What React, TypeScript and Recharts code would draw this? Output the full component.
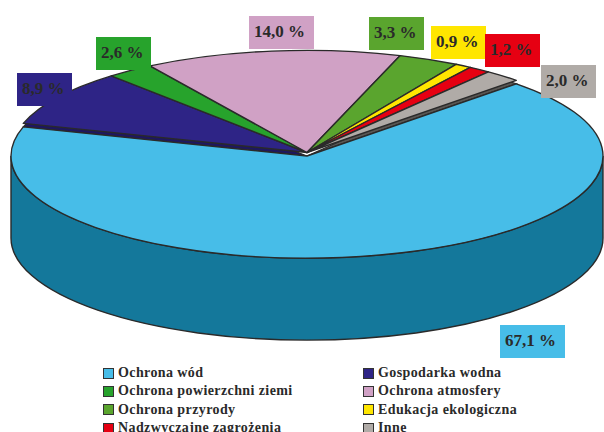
import { PieChart, Pie, Legend } from "recharts";

// Chart data
const CATEGORIES = [
  "Ochrona wód",
  "Gospodarka wodna",
  "Ochrona powierzchni ziemi",
  "Ochrona atmosfery",
  "Ochrona przyrody",
  "Edukacja ekologiczna",
  "Nadzwyczajne zagrożenia",
  "Inne",
];
const SHARES = [67.1, 8.9, 2.6, 14.0, 3.3, 0.9, 1.2, 2.0];
const COLORS = ["#47BDE8", "#2E2486", "#27A32C", "#D0A1C5", "#5AA52E", "#FFE600", "#E60012", "#B0ABA7"];
const CUT_COLORS = ["#14789B", "#1E1760", "#1B7A20", "#9A7592", "#3F7A20", "#B8A600", "#A0000C", "#5A5754"];

// top-left corner and width of each value box
const LABEL_BOXES = [
  [500, 325, 65],
  [17, 73, 55],
  [96, 37, 55],
  [249, 16, 65],
  [369, 17, 55],
  [431, 26, 55],
  [485, 34, 55],
  [541, 65, 55],
];

const pieData = CATEGORIES.map((name, i) => ({ name, value: SHARES[i] }));

const SQUASH = 0.345;
const DEPTH = 82;
const LIFT = 3.5; // blue slice sits this much below the rest
const INK = "#2a2a2a";
const SERIF = "'Liberation Serif', serif";

const RAD = Math.PI / 180;

function wedgePath(cx: number, cy: number, r: number, start: number, end: number) {
  const ry = r * SQUASH;
  const x0 = cx + r * Math.cos(start * RAD);
  const y0 = cy - ry * Math.sin(start * RAD);
  const x1 = cx + r * Math.cos(end * RAD);
  const y1 = cy - ry * Math.sin(end * RAD);
  const large = Math.abs(start - end) > 180 ? 1 : 0;
  return `M${cx},${cy} L${x0},${y0} A${r},${ry} 0 ${large} 1 ${x1},${y1} Z`;
}

function wallPath(cx: number, cy: number, r: number) {
  const ry = r * SQUASH;
  return `M${cx - r},${cy} L${cx - r},${cy + DEPTH} A${r},${ry} 0 0 0 ${cx + r},${cy + DEPTH} L${cx + r},${cy} A${r},${ry} 0 0 1 ${cx - r},${cy} Z`;
}

function RestSlice(props: any) {
  const { cx, cy, outerRadius, startAngle, endAngle, index } = props;
  if (index === 0) return <g />;
  const d = wedgePath(cx, cy, outerRadius, startAngle, endAngle);
  const showCut = index === 1 || index === CATEGORIES.length - 1;
  return (
    <g>
      {showCut && (
        <path d={d} transform={`translate(0,${LIFT})`} fill={CUT_COLORS[index]} stroke={INK} strokeWidth={1.2} />
      )}
      <path d={d} fill={COLORS[index]} stroke={INK} strokeWidth={1.4} strokeLinejoin="round" />
    </g>
  );
}

function MainSlice(props: any) {
  const { cx, cy, outerRadius, startAngle, endAngle, index } = props;
  if (index !== 0) return <g />;
  return (
    <g>
      <path d={wallPath(cx, cy, outerRadius)} fill={CUT_COLORS[0]} stroke={INK} strokeWidth={1.4} />
      <path
        d={wedgePath(cx, cy, outerRadius, startAngle, endAngle)}
        fill={COLORS[0]}
        stroke={INK}
        strokeWidth={1.4}
        strokeLinejoin="round"
      />
    </g>
  );
}

function ValueBox(props: any) {
  const { index } = props;
  const [x, y, w] = LABEL_BOXES[index];
  return (
    <g>
      <rect x={x} y={y} width={w} height={33} fill={COLORS[index]} />
      <text
        x={x + 5}
        y={y + 21}
        textAnchor="start"
        fontFamily={SERIF}
        fontWeight={700}
        fontSize={17}
        fill={INK}
      >
        {SHARES[index].toFixed(1).replace(".", ",") + " %"}
      </text>
    </g>
  );
}

function LegendGrid() {
  return (
    <div style={{ position: "relative", width: 604, height: 70 }}>
      {CATEGORIES.map((name, i) => (
        <div
          key={name}
          style={{
            position: "absolute",
            left: i % 2 === 0 ? 103 : 363,
            top: Math.floor(i / 2) * 18.4,
            display: "flex",
            alignItems: "center",
            height: 18,
            fontFamily: SERIF,
            fontWeight: 700,
            fontSize: 14,
            letterSpacing: 0.4,
            color: INK,
            whiteSpace: "nowrap",
          }}
        >
          <span
            style={{
              width: 9,
              height: 9,
              marginRight: 4,
              background: COLORS[i],
              border: "1px solid #333",
              display: "inline-block",
            }}
          />
          {name}
        </div>
      ))}
    </div>
  );
}

export default function App() {
  return (
    <div style={{ position: "absolute", left: 0, top: 0, width: 604, height: 432, overflow: "hidden", background: "#fff" }}>
      <PieChart width={604} height={432} margin={{ top: 0, right: 0, bottom: 0, left: 0 }}>
        <Pie
          data={pieData}
          dataKey="value"
          nameKey="name"
          cx={307}
          cy={152.5}
          innerRadius={0}
          outerRadius={296}
          startAngle={45}
          endAngle={-315}
          stroke="none"
          shape={RestSlice}
          inactiveShape={RestSlice}
          isAnimationActive={false}
        />
        <Pie
          data={pieData}
          dataKey="value"
          nameKey="name"
          cx={307}
          cy={152.5 + LIFT}
          innerRadius={0}
          outerRadius={296}
          startAngle={45}
          endAngle={-315}
          stroke="none"
          shape={MainSlice}
          inactiveShape={MainSlice}
          label={ValueBox}
          labelLine={false}
          isAnimationActive={false}
        />
        <Legend
          content={LegendGrid}
          wrapperStyle={{ position: "absolute", left: 0, top: 364, width: 604, height: 70, bottom: "auto" }}
        />
      </PieChart>
    </div>
  );
}
